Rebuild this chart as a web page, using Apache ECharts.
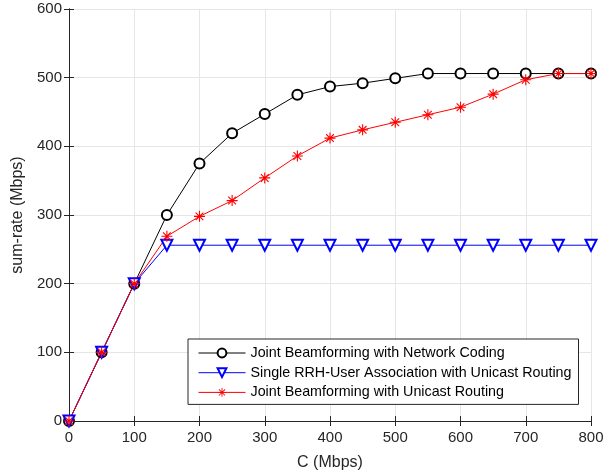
<!DOCTYPE html>
<html>
<head>
<meta charset="utf-8">
<script src="https://cdn.jsdelivr.net/npm/echarts@6/dist/echarts.min.js"></script>
<style>
  html, body { margin: 0; padding: 0; background: #fff; }
  #chart { width: 613px; height: 472px; }
</style>
</head>
<body>
<div id="chart"></div>
<script>
const capacity = [0, 50, 100, 150, 200, 250, 300, 350, 400, 450, 500, 550, 600, 650, 700, 750, 800]
const networkCoding = [0, 100, 200, 300, 375, 419, 447, 475, 487, 492, 499, 506, 506, 506, 506, 506, 506]
const singleRrh = [0, 100, 200, 256, 256, 256, 256, 256, 256, 256, 256, 256, 256, 256, 256, 256, 256]
const unicastRouting = [0, 100, 200, 269, 298, 321, 354, 386, 412, 424, 435, 446, 457, 476, 497, 506, 506]
const seriesNames = [
    'Joint Beamforming with Network Coding',
    'Single RRH-User Association with Unicast Routing',
    'Joint Beamforming with Unicast Routing',
]

const pairs = (ys) => capacity.map((x, i) => [x, ys[i]])

// asterisk marker like matlab '*'
const asterisk = 'path://M0 9L20 9L20 11L0 11Z' +
    'M9 0L11 0L11 20L9 20Z' +
    'M3.71 2.29L17.71 16.29L16.29 17.71L2.29 3.71Z' +
    'M17.71 3.71L3.71 17.71L2.29 16.29L16.29 2.29Z'

const axisColor = '#262626'
const font = 'Liberation Sans, Arial, sans-serif'

const baseAxis = {
    axisLine: { show: true, lineStyle: { color: axisColor, width: 1 } },
    axisTick: { show: true, inside: true, length: 5, lineStyle: { color: axisColor } },
    axisLabel: { color: axisColor, fontSize: 15, fontFamily: font },
    splitLine: { show: true, lineStyle: { color: '#e6e6e6', width: 1 } },
}

const option = {
    animation: false,
    grid: { left: 69, right: 22, top: 9, bottom: 51, outerBoundsMode: 'none' },
    xAxis: [
        {
            ...baseAxis,
            type: 'value',
            min: 0,
            max: 800,
            interval: 100,
            name: 'C (Mbps)',
            nameLocation: 'middle',
            nameGap: 34,
            nameTextStyle: { color: axisColor, fontSize: 16, fontFamily: font },
            axisLabel: { ...baseAxis.axisLabel, margin: 9 },
        },
        {
            ...baseAxis,
            type: 'value',
            position: 'top',
            min: 0,
            max: 800,
            interval: 100,
            axisLabel: { show: false },
            splitLine: { show: false },
        },
    ],
    yAxis: [
        {
            ...baseAxis,
            type: 'value',
            min: 0,
            max: 600,
            interval: 100,
            name: 'sum-rate (Mbps)',
            nameLocation: 'middle',
            nameGap: 28,
            nameTextStyle: { color: axisColor, fontSize: 16, fontFamily: font },
            axisLabel: { ...baseAxis.axisLabel, margin: 7 },
        },
        {
            ...baseAxis,
            type: 'value',
            position: 'right',
            min: 0,
            max: 600,
            interval: 100,
            axisLabel: { show: false },
            splitLine: { show: false },
        },
    ],
    legend: {
        orient: 'vertical',
        left: 188,
        top: 339,
        backgroundColor: '#fff',
        borderColor: axisColor,
        borderWidth: 1,
        borderRadius: 0,
        padding: [7, 7, 5, 10],
        itemWidth: 47,
        itemHeight: 11,
        itemGap: 5.7,
        lineStyle: { width: 1 },
        itemStyle: { borderWidth: 1 },
        textStyle: { color: '#000', fontSize: 14.3, lineHeight: 14, fontFamily: font },
        data: seriesNames,
    },
    series: [
        {
            name: seriesNames[0],
            type: 'line',
            data: pairs(networkCoding),
            color: '#000',
            lineStyle: { width: 1 },
            symbol: 'emptyCircle',
            symbolSize: 10,
            itemStyle: { color: '#000', borderWidth: 1 },
        },
        {
            name: seriesNames[1],
            type: 'line',
            data: pairs(singleRrh),
            color: '#0000ff',
            lineStyle: { width: 1 },
            symbol: 'emptyTriangle',
            symbolRotate: 180,
            symbolSize: 11,
            itemStyle: { color: '#0000ff', borderWidth: 1 },
        },
        {
            name: seriesNames[2],
            type: 'line',
            data: pairs(unicastRouting),
            color: '#ff0000',
            lineStyle: { width: 1 },
            symbol: asterisk,
            symbolSize: 11,
            itemStyle: { color: '#ff0000' },
        },
    ],
}

const myChart = echarts.init(document.getElementById('chart'))
myChart.setOption(option)
</script>
</body>
</html>
